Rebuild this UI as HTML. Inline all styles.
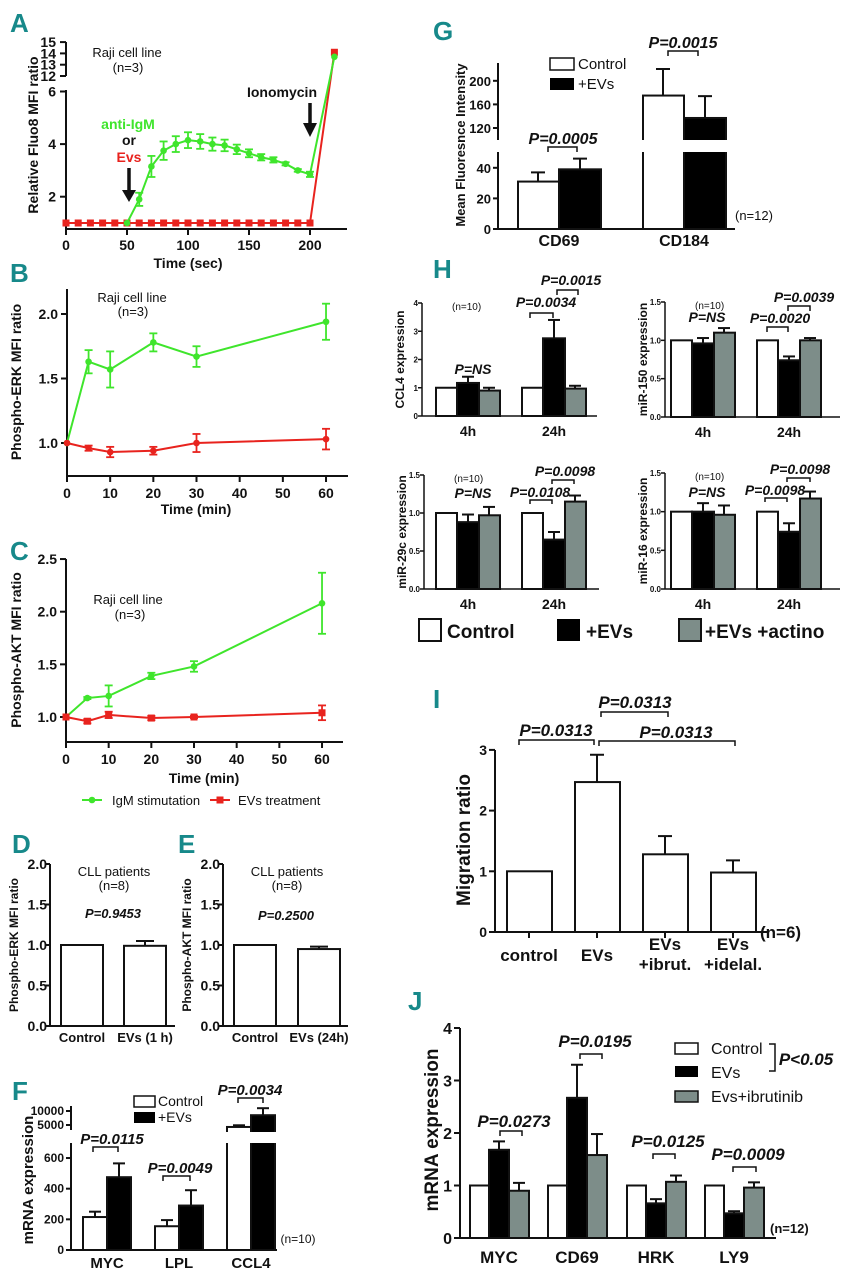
<!DOCTYPE html>
<html><head><meta charset="utf-8"><style>
html,body{margin:0;padding:0;background:#fff;}
svg{display:block;font-family:"Liberation Sans Narrow","Liberation Sans",sans-serif;}
</style></head><body>
<svg id="fig" xmlns="http://www.w3.org/2000/svg" width="847" height="1280" viewBox="0 0 847 1280"></svg>
<script>
// ---- Panel A data ----
const timeA=[0,10,20,30,40,50,60,70,80,90,100,110,120,130,140,150,160,170,180,190,200,220];
const greenA=[1,1,1,1,1,1,1.9,3.15,3.75,4.0,4.15,4.1,4.0,3.95,3.8,3.65,3.5,3.4,3.25,3.0,2.85,13.7];
const greenAerr=[0,0,0,0,0,0,0.25,0.4,0.35,0.3,0.3,0.28,0.25,0.22,0.18,0.15,0.12,0.1,0.06,0.05,0.1,0];
const redA=[1,1,1,1,1,1,1,1,1,1,1,1,1,1,1,1,1,1,1,1,1,14.1];
const tickAx=[0,50,100,150,200];
const tickAyLow=[2,4,6];
const tickAyHigh=[12,13,14,15];
// ---- Panel B data ----
const timeB=[0,5,10,20,30,60];
const greenB=[1,1.63,1.57,1.78,1.67,1.94];
const greenBerr=[0,0.09,0.14,0.07,0.08,0.14];
const redB=[1,0.96,0.93,0.94,1.0,1.03];
const redBerr=[0,0.02,0.04,0.03,0.07,0.08];
const tickBy=[1.0,1.5,2.0];
const tickBx=[0,10,20,30,40,50,60];
// ---- Panel C data ----
const greenC=[1,1.18,1.2,1.39,1.48,2.08];
const greenCerr=[0,0.01,0.1,0.03,0.05,0.29];
const redC=[1,0.96,1.02,0.99,1.0,1.04];
const redCerr=[0,0.02,0.03,0.02,0.01,0.07];
const tickCy=[1.0,1.5,2.0,2.5];
// ---- Panel D/E data ----
const catsD=["Control","EVs (1 h)"];
const valsD=[1,0.99];
const errD=[0,0.06];
const catsE=["Control","EVs (24h)"];
const valsE=[1,0.95];
const errE=[0,0.03];
const tickDE=[0,0.5,1.0,1.5,2.0];
// ---- Panel F data ----
const catsF=["MYC","LPL","CCL4"];
const ctrlF=[215,155,4300];
const ctrlFerr=[35,40,600];
const evsF=[475,290,8500];
const evsFerr=[90,100,2500];
const tickFLow=[0,200,400,600];
const tickFHigh=[5000,10000];
// ---- Panel G data ----
const catsG=["CD69","CD184"];
const ctrlG=[31,175];
const ctrlGerr=[6,45];
const evsG=[39,137];
const evsGerr=[7,37];
const tickGLow=[0,20,40];
const tickGHigh=[120,160,200];
// ---- Panel H data ----
const catsH=["4h","24h"];
const ccl4Ctrl=[1,1], ccl4Evs=[1.17,2.75], ccl4EvsErr=[0.22,0.65], ccl4Act=[0.9,0.97], ccl4ActErr=[0.1,0.1];
const m150Ctrl=[1,1], m150Evs=[0.96,0.74], m150EvsErr=[0.07,0.05], m150Act=[1.1,1.0], m150ActErr=[0.06,0.03];
const m29Ctrl=[1,1], m29Evs=[0.88,0.65], m29EvsErr=[0.1,0.1], m29Act=[0.97,1.15], m29ActErr=[0.11,0.08];
const m16Ctrl=[1,1], m16Evs=[1.0,0.74], m16EvsErr=[0.11,0.11], m16Act=[0.96,1.17], m16ActErr=[0.12,0.09];
// ---- Panel I data ----
const catsI=["control","EVs","EVs|+ibrut.","EVs|+idelal."];
const valsI=[1,2.47,1.28,0.98];
const errI=[0,0.45,0.3,0.2];
const tickI=[0,1,2,3];
// ---- Panel J data ----
const catsJ=["MYC","CD69","HRK","LY9"];
const ctrlJ=[1,1,1,1];
const evsJ=[1.68,2.67,0.66,0.47];
const evsJerr=[0.16,0.63,0.08,0.04];
const ibrJ=[0.9,1.58,1.07,0.96];
const ibrJerr=[0.15,0.4,0.12,0.1];
const tickJ=[0,1,2,3,4];

const svg=document.getElementById('fig');
const NS='http://www.w3.org/2000/svg';
const GREEN='#3fe52c', RED='#e8231e', GRAY='#7d8d89', TEAL='#17898a';
function mk(tag,attrs,name){
  const el=document.createElementNS(NS,tag);
  for(const k in attrs) el.setAttribute(k,attrs[k]);
  
  
  svg.appendChild(el);
  return el;
}
function line(x1,y1,x2,y2,name,col,w){return mk('line',{x1:x1,y1:y1,x2:x2,y2:y2,stroke:col||'#111','stroke-width':w||2},name);}
function txt(x,y,s,size,name,o){
  o=o||{};
  const el=mk('text',{x:x,y:y,'font-size':size,'text-anchor':o.anchor||'middle','font-weight':o.weight||'bold',fill:o.fill||'#111','font-style':o.italic?'italic':'normal','font-family':o.family||'"Liberation Sans Narrow","Liberation Sans",sans-serif'},name);
  if(o.rot) el.setAttribute('transform','rotate(-90 '+x+' '+y+')');
  el.textContent=s;
  return el;
}
function letter(x,y,s){txt(x,y,s,26,'panel-label-'+s.toLowerCase(),{anchor:'start',fill:TEAL});}
function bracket(x1,x2,y,h,name){mk('path',{d:'M'+x1+' '+(y+h)+' V'+y+' H'+x2+' V'+(y+h),fill:'none',stroke:'#111','stroke-width':1.5},name);}
function pval(x,y,s,size,name){txt(x,y,s,size,name,{italic:true});}
function bar(x,w,y0,y1,fill,name){return mk('rect',{x:x,y:Math.min(y0,y1),width:w,height:Math.abs(y0-y1),fill:fill,stroke:'#111','stroke-width':2},name);}
function errbar(cx,yTop,yErr,cap,name){line(cx,yTop,cx,yErr,name,'#111',2);line(cx-cap/2,yErr,cx+cap/2,yErr,name+'-cap','#111',2);}
function series(xs,ys,errs,xf,yf,col,marker,name){
  let d='';
  xs.forEach((t,i)=>{d+=(i?'L':'M')+xf(t)+' '+yf(ys[i]);});
  mk('path',{d:d,fill:'none',stroke:col,'stroke-width':2},name+'-line');
  xs.forEach((t,i)=>{
    const cx=xf(t), cy=yf(ys[i]);
    if(errs&&errs[i]>0){
      line(cx,yf(ys[i]-errs[i]),cx,yf(ys[i]+errs[i]),name+'-err',col,1.8);
      line(cx-4,yf(ys[i]-errs[i]),cx+4,yf(ys[i]-errs[i]),name+'-err-cap',col,1.8);
      line(cx-4,yf(ys[i]+errs[i]),cx+4,yf(ys[i]+errs[i]),name+'-err-cap',col,1.8);
    }
    if(marker==='sq') mk('rect',{x:cx-3.5,y:cy-3.5,width:7,height:7,fill:col},name+'-point');
    else mk('circle',{cx:cx,cy:cy,r:3.3,fill:col},name+'-point');
  });
}

// ================= Panel A =================
letter(10,32,'A');
const xA=t=>66+t*1.22;
const yA=v=>v>=12?76-(v-12)*11.3:223-(v-1)*26.3;
line(66,90,66,229,'a-y-axis');line(66,42,66,76,'a-y-axis-upper');
line(66,229,347,229,'a-x-axis');
tickAyLow.forEach(v=>{line(60,yA(v),66,yA(v),'a-y-tick');txt(56,yA(v)+5,String(v),14,'a-y-tick-label',{anchor:'end'});});
tickAyHigh.forEach(v=>{line(60,yA(v),66,yA(v),'a-y-tick');txt(56,yA(v)+5,String(v),14,'a-y-tick-label',{anchor:'end'});});
tickAx.forEach(v=>{line(xA(v),229,xA(v),235,'a-x-tick');txt(xA(v),250,String(v),14,'a-x-tick-label');});
txt(188,268,'Time (sec)',14,'a-x-axis-title');
txt(38,135,'Relative Fluo8 MFI ratio',14,'a-y-axis-title',{rot:true});
txt(127,57,'Raji cell line',13,'a-annotation',{weight:'normal'});
txt(128,72,'(n=3)',13,'a-annotation-n',{weight:'normal'});
series(timeA,redA,null,xA,yA,RED,'sq','a-evs');
series(timeA.slice(5),greenA.slice(5),greenAerr.slice(5),xA,yA,GREEN,'dot','a-igm');
txt(128,129,'anti-IgM',14,'a-anti-igm-label',{fill:GREEN});
txt(129,145,'or',14,'a-or-label');
txt(129,162,'Evs',14,'a-evs-label',{fill:RED});
line(129,168,129,192,'a-arrow-stim','#111',3.5);mk('path',{d:'M122 190 L136 190 L129 202 Z',fill:'#111'},'a-arrow-stim-head');
txt(282,97,'Ionomycin',14,'a-ionomycin-label');
line(310,103,310,125,'a-arrow-iono','#111',3.5);mk('path',{d:'M303 123 L317 123 L310 137 Z',fill:'#111'},'a-arrow-iono-head');

// ================= Panel B =================
letter(10,282,'B');
const xB=t=>67+t*4.317;
const yB=v=>443-(v-1)*129;
line(67,289,67,476,'b-y-axis');line(67,476,348,476,'b-x-axis');
tickBy.forEach(v=>{line(61,yB(v),67,yB(v),'b-y-tick');txt(58,yB(v)+5,v.toFixed(1),14,'b-y-tick-label',{anchor:'end'});});
tickBx.forEach(v=>{line(xB(v),476,xB(v),482,'b-x-tick');txt(xB(v),498,String(v),14,'b-x-tick-label');});
txt(196,514,'Time (min)',14,'b-x-axis-title');
txt(21,382,'Phospho-ERK MFI ratio',14,'b-y-axis-title',{rot:true});
txt(132,302,'Raji cell line',13,'b-annotation',{weight:'normal'});
txt(133,316,'(n=3)',13,'b-annotation-n',{weight:'normal'});
series(timeB,greenB,greenBerr,xB,yB,GREEN,'tri','b-igm');
series(timeB,redB,redBerr,xB,yB,RED,'tri','b-evs');

// ================= Panel C =================
letter(10,560,'C');
const xC=t=>66+t*4.267;
const yC=v=>717-(v-1)*105.3;
line(66,559,66,742,'c-y-axis');line(66,742,343,742,'c-x-axis');
tickCy.forEach(v=>{line(60,yC(v),66,yC(v),'c-y-tick');txt(57,yC(v)+5,v.toFixed(1),14,'c-y-tick-label',{anchor:'end'});});
tickBx.forEach(v=>{line(xC(v),742,xC(v),748,'c-x-tick');txt(xC(v),764,String(v),14,'c-x-tick-label');});
txt(204,783,'Time (min)',14,'c-x-axis-title');
txt(21,650,'Phospho-AKT MFI ratio',14,'c-y-axis-title',{rot:true});
txt(128,604,'Raji cell line',13,'c-annotation',{weight:'normal'});
txt(130,619,'(n=3)',13,'c-annotation-n',{weight:'normal'});
series(timeB,greenC,greenCerr,xC,yC,GREEN,'dot','c-igm');
series(timeB,redC,redCerr,xC,yC,RED,'sq','c-evs');
line(82,800,102,800,'legend-igm-line',GREEN,2);mk('circle',{cx:92,cy:800,r:3.3,fill:GREEN},'legend-igm-marker');
txt(112,805,'IgM stimutation',13,'legend-igm-text',{anchor:'start',weight:'normal',family:'"Liberation Sans",sans-serif'});
line(210,800,230,800,'legend-evs-line',RED,2);mk('rect',{x:216.5,y:796.5,width:7,height:7,fill:RED},'legend-evs-marker');
txt(238,805,'EVs treatment',13,'legend-evs-text',{anchor:'start',weight:'normal',family:'"Liberation Sans",sans-serif'});

// ================= Panels D & E =================
function simpleBars(ax,cats,vals,errs,bx,prefix,ylab,pv,py){
  const y=v=>1026-v*81;
  line(ax,864,ax,1026,prefix+'-y-axis');line(ax,1026,ax+125,1026,prefix+'-x-axis');
  tickDE.forEach(v=>{line(ax-5,y(v),ax,y(v),prefix+'-y-tick');txt(ax-3,y(v)+5,v.toFixed(1),14,prefix+'-y-tick-label',{anchor:'end'});});
  cats.forEach((c,i)=>{
    bar(bx[i],42,y(0),y(vals[i]),'#fff',prefix+'-bar-'+i);
    if(errs[i]>0) errbar(bx[i]+21,y(vals[i]),y(vals[i]+errs[i]),18,prefix+'-error-'+i);
    txt(bx[i]+21,1042,c,13,prefix+'-x-label-'+i);
  });
  txt(ax-32,945,ylab,12,prefix+'-y-axis-title',{rot:true});
  txt(ax+64,876,'CLL patients',13,prefix+'-annotation',{weight:'normal'});
  txt(ax+64,890,'(n=8)',13,prefix+'-annotation-n',{weight:'normal'});
  pval(ax+63,py,pv,13,prefix+'-p-value');
}
letter(12,853,'D');letter(178,853,'E');
simpleBars(50,catsD,valsD,errD,[61,124],'d','Phospho-ERK MFI ratio','P=0.9453',918);
simpleBars(223,catsE,valsE,errE,[234,298],'e','Phospho-AKT MFI ratio','P=0.2500',920);

// ================= Panel F =================
letter(12,1100,'F');
const yF=v=>v<=700?1250-v*0.1533:1125-(v-5000)*0.0028;
line(71,1143,71,1250,'f-y-axis');line(71,1106,71,1130,'f-y-axis-upper');line(71,1250,277,1250,'f-x-axis');
tickFLow.forEach(v=>{line(66,yF(v),71,yF(v),'f-y-tick');txt(64,yF(v)+4,String(v),12,'f-y-tick-label',{anchor:'end'});});
tickFHigh.forEach(v=>{line(66,yF(v),71,yF(v),'f-y-tick');txt(64,yF(v)+4,String(v),12,'f-y-tick-label',{anchor:'end'});});
const fx=[83,155,227];
catsF.forEach((c,i)=>{
  bar(fx[i],24,yF(0),yF(ctrlF[i]),'#fff','f-bar-control-'+c);
  errbar(fx[i]+12,yF(ctrlF[i]),yF(ctrlF[i]+ctrlFerr[i]),12,'f-error-control-'+c);
  bar(fx[i]+24,24,yF(0),yF(evsF[i]),'#000','f-bar-evs-'+c);
  errbar(fx[i]+36,yF(evsF[i]),yF(evsF[i]+evsFerr[i]),12,'f-error-evs-'+c);
  txt(fx[i]+24,1268,c,15,'f-x-label-'+c);
});
mk('rect',{x:72,y:1132,width:210,height:11,fill:'#fff'},'f-axis-break-gap');
txt(33,1180,'mRNA expression',15,'f-y-axis-title',{rot:true});
mk('rect',{x:134,y:1096,width:21,height:11,fill:'#fff',stroke:'#111','stroke-width':1.5},'f-legend-control-swatch');
txt(158,1106,'Control',14,'f-legend-control-text',{anchor:'start',weight:'normal',family:'"Liberation Sans",sans-serif'});
mk('rect',{x:134,y:1112,width:21,height:11,fill:'#000'},'f-legend-evs-swatch');
txt(158,1122,'+EVs',14,'f-legend-evs-text',{anchor:'start',weight:'normal',family:'"Liberation Sans",sans-serif'});
bracket(93,118,1147,5,'f-bracket-myc');pval(112,1144,'P=0.0115',15,'f-p-myc');
bracket(163,190,1176,5,'f-bracket-lpl');pval(180,1173,'P=0.0049',15,'f-p-lpl');
bracket(238,263,1098,5,'f-bracket-ccl4');pval(250,1095,'P=0.0034',15,'f-p-ccl4');
txt(298,1243,'(n=10)',12,'f-n-label',{weight:'normal',family:'"Liberation Sans",sans-serif'});

// ================= Panel G =================
letter(433,40,'G');
const yG=v=>v<=50?229-v*1.53:128-(v-120)*0.59;
line(498,152,498,229,'g-y-axis');line(498,63,498,140,'g-y-axis-upper');line(498,229,735,229,'g-x-axis');
tickGLow.forEach(v=>{line(493,yG(v),498,yG(v),'g-y-tick');txt(491,yG(v)+5,String(v),13,'g-y-tick-label',{anchor:'end'});});
tickGHigh.forEach(v=>{line(493,yG(v),498,yG(v),'g-y-tick');txt(491,yG(v)+5,String(v),13,'g-y-tick-label',{anchor:'end'});});
const gx=[518,643];
catsG.forEach((c,i)=>{
  bar(gx[i],41,yG(0),yG(ctrlG[i]),'#fff','g-bar-control-'+c);
  errbar(gx[i]+20,yG(ctrlG[i]),yG(ctrlG[i]+ctrlGerr[i]),14,'g-error-control-'+c);
  bar(gx[i]+41,42,yG(0),yG(evsG[i]),'#000','g-bar-evs-'+c);
  errbar(gx[i]+62,yG(evsG[i]),yG(evsG[i]+evsGerr[i]),14,'g-error-evs-'+c);
  txt(gx[i]+41,246,c,16,'g-x-label-'+c);
});
mk('rect',{x:640,y:140,width:92,height:12,fill:'#fff'},'g-axis-break-gap');
txt(465,145,'Mean Fluoresnce Intensity',13,'g-y-axis-title',{rot:true});
mk('rect',{x:550,y:58,width:24,height:12,fill:'#fff',stroke:'#111','stroke-width':1.5},'g-legend-control-swatch');
txt(578,69,'Control',15,'g-legend-control-text',{anchor:'start',weight:'normal',family:'"Liberation Sans",sans-serif'});
mk('rect',{x:550,y:78,width:24,height:12,fill:'#000'},'g-legend-evs-swatch');
txt(578,89,'+EVs',15,'g-legend-evs-text',{anchor:'start',weight:'normal',family:'"Liberation Sans",sans-serif'});
bracket(668,698,51,5,'g-bracket-cd184');pval(683,48,'P=0.0015',16,'g-p-cd184');
bracket(548,577,147,5,'g-bracket-cd69');pval(563,144,'P=0.0005',16,'g-p-cd69');
txt(735,220,'(n=12)',13,'g-n-label',{anchor:'start',weight:'normal',family:'"Liberation Sans",sans-serif'});

// ================= Panel H =================
letter(433,278,'H');
function hChart(ax,y0,yTop,ticks,tickFmt,ctrl,evs,evsErr,act,actErr,prefix,ylab,bx){
  const unit=(y0-yTop)/ticks[ticks.length-1];
  const y=v=>y0-v*unit;
  line(ax,yTop,ax,y0,prefix+'-y-axis',null,1.5);line(ax,y0,ax+175,y0,prefix+'-x-axis',null,1.5);
  ticks.forEach(v=>{line(ax-4,y(v),ax,y(v),prefix+'-y-tick',null,1.5);txt(ax-4,y(v)+3,tickFmt(v),8,prefix+'-y-tick-label',{anchor:'end'});});
  catsH.forEach((c,i)=>{
    const x=bx[i];
    bar(x,21,y(0),y(ctrl[i]),'#fff',prefix+'-bar-control-'+c);
    bar(x+21,22,y(0),y(evs[i]),'#000',prefix+'-bar-evs-'+c);
    errbar(x+32,y(evs[i]),y(evs[i]+evsErr[i]),12,prefix+'-error-evs-'+c);
    bar(x+43,21,y(0),y(act[i]),GRAY,prefix+'-bar-actino-'+c);
    errbar(x+53,y(act[i]),y(act[i]+actErr[i]),12,prefix+'-error-actino-'+c);
    txt(x+32,y0+20,c,14,prefix+'-x-label-'+c);
  });
  txt(ax-18,(y0+yTop)/2,ylab,12,prefix+'-y-axis-title',{rot:true});
  txt(ax+30,yTop+7,'(n=10)',10,prefix+'-n-label',{anchor:'start',weight:'normal',family:'"Liberation Sans",sans-serif'});
}
const f0=v=>String(v), f1=v=>v.toFixed(1);
hChart(422,416,303,[0,1,2,3,4],f0,ccl4Ctrl,ccl4Evs,ccl4EvsErr,ccl4Act,ccl4ActErr,'h-ccl4','CCL4 expression',[436,522]);
hChart(665,417,302,[0,0.5,1.0,1.5],f1,m150Ctrl,m150Evs,m150EvsErr,m150Act,m150ActErr,'h-mir150','miR-150 expression',[671,757]);
hChart(424,589,475,[0,0.5,1.0,1.5],f1,m29Ctrl,m29Evs,m29EvsErr,m29Act,m29ActErr,'h-mir29c','miR-29c expression',[436,522]);
hChart(665,589,473,[0,0.5,1.0,1.5],f1,m16Ctrl,m16Evs,m16EvsErr,m16Act,m16ActErr,'h-mir16','miR-16 expression',[671,757]);
pval(473,374,'P=NS',14,'h-ccl4-p-4h');
bracket(530,553,313,5,'h-ccl4-bracket-1');pval(546,307,'P=0.0034',14,'h-ccl4-p-1');
bracket(557,578,290,5,'h-ccl4-bracket-2');pval(571,285,'P=0.0015',14,'h-ccl4-p-2');
pval(707,322,'P=NS',14,'h-mir150-p-4h');
bracket(767,788,327,5,'h-mir150-bracket-1');pval(780,323,'P=0.0020',14,'h-mir150-p-1');
bracket(788,810,306,5,'h-mir150-bracket-2');pval(804,302,'P=0.0039',14,'h-mir150-p-2');
pval(473,498,'P=NS',14,'h-mir29c-p-4h');
bracket(530,552,500,4,'h-mir29c-bracket-1');pval(540,497,'P=0.0108',14,'h-mir29c-p-1');
bracket(552,574,480,4,'h-mir29c-bracket-2');pval(565,476,'P=0.0098',14,'h-mir29c-p-2');
pval(707,497,'P=NS',14,'h-mir16-p-4h');
bracket(765,787,498,4,'h-mir16-bracket-1');pval(775,495,'P=0.0098',14,'h-mir16-p-1');
bracket(787,810,478,4,'h-mir16-bracket-2');pval(800,474,'P=0.0098',14,'h-mir16-p-2');
mk('rect',{x:419,y:619,width:22,height:22,fill:'#fff',stroke:'#111','stroke-width':2},'h-legend-control-swatch');
txt(447,638,'Control',19,'h-legend-control-text',{anchor:'start',family:'"Liberation Sans",sans-serif'});
mk('rect',{x:557,y:619,width:23,height:22,fill:'#000'},'h-legend-evs-swatch');
txt(586,638,'+EVs',19,'h-legend-evs-text',{anchor:'start',family:'"Liberation Sans",sans-serif'});
mk('rect',{x:679,y:619,width:22,height:22,fill:GRAY,stroke:'#111','stroke-width':2},'h-legend-actino-swatch');
txt(705,638,'+EVs +actino',19,'h-legend-actino-text',{anchor:'start',family:'"Liberation Sans",sans-serif'});

// ================= Panel I =================
letter(433,708,'I');
const yI=v=>932-v*60.7;
line(495,750,495,932,'i-y-axis');line(495,932,767,932,'i-x-axis');
tickI.forEach(v=>{line(489,yI(v),495,yI(v),'i-y-tick');txt(487,yI(v)+5,String(v),14,'i-y-tick-label',{anchor:'end'});});
const ix=[507,575,643,711];
catsI.forEach((c,i)=>{
  bar(ix[i],45,yI(0),yI(valsI[i]),'#fff','i-bar-'+i);
  if(errI[i]>0) errbar(ix[i]+22,yI(valsI[i]),yI(valsI[i]+errI[i]),14,'i-error-'+i);
  line(ix[i]+22,932,ix[i]+22,938,'i-x-tick');
  const parts=c.split('|');
  if(parts.length===1) txt(ix[i]+22,961,parts[0],17,'i-x-label-'+i);
  else {txt(ix[i]+22,950,parts[0],17,'i-x-label-'+i);txt(ix[i]+22,970,parts[1],17,'i-x-label-sub-'+i);}
});
txt(470,840,'Migration ratio',19,'i-y-axis-title',{rot:true});
bracket(601,668,712,5,'i-bracket-top');pval(635,708,'P=0.0313',17,'i-p-top');
bracket(519,594,740,5,'i-bracket-left');pval(556,736,'P=0.0313',17,'i-p-left');
bracket(599,735,741,5,'i-bracket-right');pval(676,738,'P=0.0313',17,'i-p-right');
txt(760,938,'(n=6)',17,'i-n-label',{anchor:'start'});

// ================= Panel J =================
letter(408,1010,'J');
const yJ=v=>1238-v*52.5;
line(460,1028,460,1238,'j-y-axis');line(460,1238,776,1238,'j-x-axis');
tickJ.forEach(v=>{line(454,yJ(v),460,yJ(v),'j-y-tick');txt(452,yJ(v)+6,String(v),16,'j-y-tick-label',{anchor:'end'});});
const jx=[470,548,627,705];
catsJ.forEach((c,i)=>{
  bar(jx[i],19,yJ(0),yJ(ctrlJ[i]),'#fff','j-bar-control-'+c);
  bar(jx[i]+19,20,yJ(0),yJ(evsJ[i]),'#000','j-bar-evs-'+c);
  errbar(jx[i]+29,yJ(evsJ[i]),yJ(evsJ[i]+evsJerr[i]),12,'j-error-evs-'+c);
  bar(jx[i]+39,20,yJ(0),yJ(ibrJ[i]),GRAY,'j-bar-ibrutinib-'+c);
  errbar(jx[i]+49,yJ(ibrJ[i]),yJ(ibrJ[i]+ibrJerr[i]),12,'j-error-ibrutinib-'+c);
  txt(jx[i]+29,1263,c,17,'j-x-label-'+c);
});
txt(438,1130,'mRNA expression',19,'j-y-axis-title',{rot:true});
bracket(500,522,1131,5,'j-bracket-myc');pval(514,1127,'P=0.0273',17,'j-p-myc');
bracket(580,602,1054,5,'j-bracket-cd69');pval(595,1047,'P=0.0195',17,'j-p-cd69');
bracket(653,675,1154,5,'j-bracket-hrk');pval(668,1147,'P=0.0125',17,'j-p-hrk');
bracket(733,756,1167,5,'j-bracket-ly9');pval(748,1160,'P=0.0009',17,'j-p-ly9');
mk('rect',{x:675,y:1043,width:23,height:11,fill:'#fff',stroke:'#111','stroke-width':1.5},'j-legend-control-swatch');
txt(711,1054,'Control',16,'j-legend-control-text',{anchor:'start',weight:'normal',family:'"Liberation Sans",sans-serif'});
mk('rect',{x:675,y:1066,width:23,height:11,fill:'#000'},'j-legend-evs-swatch');
txt(711,1078,'EVs',16,'j-legend-evs-text',{anchor:'start',weight:'normal',family:'"Liberation Sans",sans-serif'});
mk('rect',{x:675,y:1091,width:23,height:11,fill:GRAY,stroke:'#111','stroke-width':1.5},'j-legend-ibrutinib-swatch');
txt(711,1102,'Evs+ibrutinib',16,'j-legend-ibrutinib-text',{anchor:'start',weight:'normal',family:'"Liberation Sans",sans-serif'});
mk('path',{d:'M769 1044 H775 V1071 H769',fill:'none',stroke:'#111','stroke-width':1.5},'j-legend-bracket');
pval(806,1065,'P<0.05',17,'j-legend-p');
txt(770,1233,'(n=12)',13,'j-n-label',{anchor:'start'});
</script>
</body></html>
